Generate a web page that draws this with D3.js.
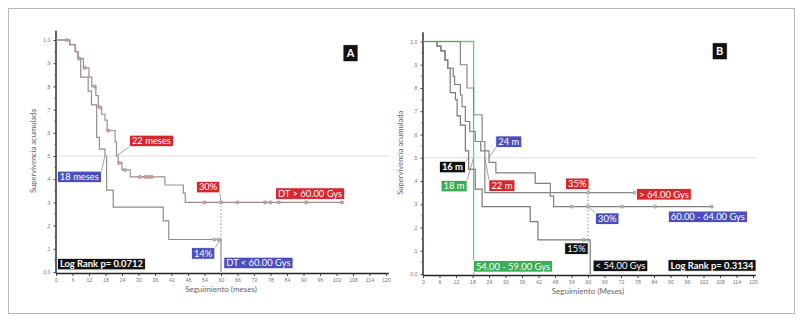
<!DOCTYPE html>
<html><head><meta charset="utf-8">
<script src="https://cdn.jsdelivr.net/npm/d3@7"></script>
<style>
html,body{margin:0;padding:0;background:#fff;}
svg{display:block;font-family:Lato,"Open Sans",sans-serif;}
</style></head>
<body><svg id="c" width="802" height="322"></svg>
<script>
// ---------- DATA ----------
const xTicks = [0,6,12,18,24,30,36,42,48,54,60,66,72,78,84,90,96,102,108,114,120];
const yTicks = [0,0.1,0.2,0.3,0.4,0.5,0.6,0.7,0.8,0.9,1.0];
const yTickLabels = ["0,0",",1",",2",",3",",4",",5",",6",",7",",8",",9","1,0"];

// Panel A: DT > 60.00 Gys
const tA_hi = [0,5,7,8,10,12,13,14.5,15.4,16.6,17.8,18.6,21.5,22,22.6,24,27,39.6,46.3,47,104];
const sA_hi = [1,.98,.95,.92,.88,.84,.80,.76,.71,.68,.655,.61,.56,.50,.47,.44,.41,.375,.34,.30,.30];
const cA_hi_t = [3.9,8.5,10.5,14,16,19,23,25,30.5,32.4,33.6,34.8,54,60,66,76,78,81,91,104];
const cA_hi_s = [1,.92,.88,.80,.71,.61,.47,.44,.41,.41,.41,.41,.30,.30,.30,.30,.30,.30,.30,.30];
// Panel A: DT < 60.00 Gys
const tA_lo = [0,5,7,8,9,11.7,12.9,14.8,15.8,17.8,18.4,20.8,39,41,60];
const sA_lo = [1,.98,.95,.92,.84,.78,.72,.58,.53,.50,.353,.28,.22,.14,0];
const cA_lo_t = [57.5,59];
const cA_lo_s = [.14,.14];

// Panel B
const tB_lt54 = [0,5.1,6.5,8,9,9.9,11.8,12.4,13.6,15.4,16.6,19,21.5,39,41.8,60.8];
const sB_lt54 = [1,.98,.96,.92,.885,.78,.75,.68,.64,.53,.45,.365,.29,.225,.147,0];
const tB_5459 = [0,18.4];
const sB_5459 = [1,0];
const tB_6064 = [0,5.1,6.5,8,9,11,11.5,13.6,14.2,15.4,17,19,21,24,26.5,40.8,46.3,47.5,105];
const sB_6064 = [1,.98,.96,.92,.885,.85,.815,.77,.72,.656,.613,.57,.53,.48,.435,.39,.335,.29,.29];
const tB_gt64 = [0,13.6,16,18.4,21.5,22.5,77];
const sB_gt64 = [1,.9,.8,.685,.57,.35,.35];
const cB_6064_t = [54,60,72.4,84.4,105];
const cB_6064_s = [.29,.29,.29,.29,.29];
const cB_gt64_t = [60,77];
const cB_gt64_s = [.35,.35];
const cB_lt54_t = [58.5];
const cB_lt54_s = [.147];

// ---------- DRAW ----------
const svg = d3.select("#c");
svg.append("rect").attr("x",8.5).attr("y",8.5).attr("width",786).attr("height",305)
  .attr("fill","none").attr("stroke","#b8b8b8").attr("stroke-width",1);

const RED="#d8262f", BLUE="#4a4ebf", BLACK="#111", GREEN="#3aad58";

function zip(t,s){return t.map((v,i)=>[v,s[i]]);}

function panel(cfg){
  const x = d3.scaleLinear().domain([0,120]).range(cfg.xr);
  const y = d3.scaleLinear().domain([0,1]).range(cfg.yr);
  const g = svg.append("g");
  g.append("line").attr("x1",x(0)).attr("x2",x(121)).attr("y1",y(.5)).attr("y2",y(.5))
    .attr("stroke","#dedede").attr("stroke-width",1);
  const xa = g.append("g").attr("transform",`translate(0,${y(0)+1.5})`)
    .call(d3.axisBottom(x).tickValues(xTicks).tickSize(2.5).tickPadding(2).tickFormat(d3.format("d")));
  xa.select(".domain").attr("stroke","#222").attr("stroke-width",1.4).attr("d",`M${x(0)},0H${x(121)}`);
  xa.selectAll("text").attr("font-size",5.2).attr("fill","#777");
  xa.selectAll(".tick line").attr("stroke","#444");
  const ya = g.append("g").attr("transform",`translate(${x(0)},0)`)
    .call(d3.axisLeft(y).tickValues(yTicks).tickSize(2.5).tickPadding(3).tickFormat((d,i)=>yTickLabels[i]));
  ya.select(".domain").attr("stroke","#222").attr("stroke-width",1.4).attr("d",`M0,${y(0)+1.5}V${y(1.04)}`);
  ya.selectAll("text").attr("font-size",5.2).attr("fill","#777");
  ya.selectAll(".tick line").attr("stroke","#444");
  g.selectAll(".my").data(d3.range(0.05,1.0,0.1)).join("line")
    .attr("x1",x(0)-2).attr("x2",x(0)).attr("y1",d=>y(d)).attr("y2",d=>y(d)).attr("stroke","#555").attr("stroke-width",0.6);
  g.append("text").attr("transform",`translate(${x(0)-20},${y(0.5)-5}) rotate(-90)`)
    .attr("text-anchor","middle").attr("font-size",7.6).attr("fill","#666").text("Supervivencia acumulada");
  g.append("text").attr("x",x(60)).attr("y",y(0)+20).attr("text-anchor","middle")
    .attr("font-size",8).attr("fill","#666").text(cfg.xtitle);
  cfg.guides.forEach(d=>{
    g.append("line").attr("x1",x(d[0])).attr("x2",x(d[0])).attr("y1",y(d[1])).attr("y2",y(d[2]))
      .attr("stroke","#888").attr("stroke-width",1).attr("stroke-dasharray","1.5,2");
  });
  const line = d3.line().x(d=>x(d[0])).y(d=>y(d[1])).curve(d3.curveStepAfter);
  cfg.curves.forEach(c=>{
    g.append("path").attr("d",line(zip(c.t,c.s))).attr("fill","none")
      .attr("stroke",c.color).attr("stroke-width",c.w||1.2);
    if(c.ct){
      g.selectAll(null).data(zip(c.ct,c.cs)).join("circle")
        .attr("cx",d=>x(d[0])).attr("cy",d=>y(d[1])).attr("r",1.6)
        .attr("fill",c.mfill).attr("stroke",c.mstroke).attr("stroke-width",0.6);
    }
  });
  cfg.labels.forEach(l=>{
    const cx=x(l.t), cy=y(l.s);
    const lg = g.append("g");
    const txt = lg.append("text").attr("x",cx).attr("y",cy+ (l.big?4:3.3)).attr("text-anchor","middle")
      .attr("font-size",l.big?11:9.4).attr("font-weight",l.big||l.bold?"bold":"normal")
      .attr("fill","#fff").text(l.text);
    const w = txt.node().getComputedTextLength();
    const bw = l.big? 15 : w+5, bh = l.big?17:11.5;
    const bx = cx-bw/2, by = cy-bh/2;
    if(l.to){
      const px = l.from==="tl"?bx:(l.from==="tr"?bx+bw:(l.from==="bl"?bx:bx+bw));
      const py = (l.from==="tl"||l.from==="tr")?by:by+bh;
      g.insert("line",":first-child").attr("x1",px).attr("y1",py).attr("x2",x(l.to[0])).attr("y2",y(l.to[1]))
        .attr("stroke","#9a9a9a").attr("stroke-width",0.9);
    }
    lg.insert("rect","text").attr("x",bx).attr("y",by).attr("width",bw).attr("height",bh)
      .attr("fill",l.color).attr("stroke","#fff").attr("stroke-width",0.8);
  });
}

panel({
  xr:[56,386], yr:[272,40], xtitle:"Seguimiento (meses)",
  guides:[[60,.30,.14]],
  curves:[
    {t:tA_lo,s:sA_lo,color:"#8e8e8e",ct:cA_lo_t,cs:cA_lo_s,mfill:"#bbb",mstroke:"#888"},
    {t:tA_hi,s:sA_hi,color:"#a08c8c",ct:cA_hi_t,cs:cA_hi_s,mfill:"#d4a8a8",mstroke:"#9a7a7a"}
  ],
  labels:[
    {text:"22 meses",color:RED,t:34.7,s:.565,to:[22,.5],from:"bl"},
    {text:"18 meses",color:BLUE,t:8.5,s:.41,to:[17.8,.5],from:"tr"},
    {text:"30%",color:RED,t:55.3,s:.366,to:[60,.30],from:"br"},
    {text:"DT > 60.00 Gys",color:RED,t:92.4,s:.338},
    {text:"14%",color:BLUE,t:53.5,s:.08,to:[60,.14],from:"tr"},
    {text:"DT < 60.00 Gys",color:BLUE,t:73.6,s:.039},
    {text:"Log Rank p= 0.0712",color:BLACK,t:16.5,s:.034,bold:true},
    {text:"A",color:BLACK,t:107.1,s:.943,big:true}
  ]
});

panel({
  xr:[423,753], yr:[274,41.5], xtitle:"Seguimiento (Meses)",
  guides:[[60,.35,.147]],
  curves:[
    {t:tB_5459,s:sB_5459,color:"#6cc878",w:1.3},
    {t:tB_lt54,s:sB_lt54,color:"#7a7a7a",ct:cB_lt54_t,cs:cB_lt54_s,mfill:"#bbb",mstroke:"#777"},
    {t:tB_6064,s:sB_6064,color:"#808080",ct:cB_6064_t,cs:cB_6064_s,mfill:"#bbb",mstroke:"#888"},
    {t:tB_gt64,s:sB_gt64,color:"#858585",ct:cB_gt64_t,cs:cB_gt64_s,mfill:"#bbb",mstroke:"#888"}
  ],
  labels:[
    {text:"16 m",color:BLACK,t:10.7,s:.46,to:[16.6,.5],from:"tr",bold:true},
    {text:"18 m",color:GREEN,t:11.3,s:.378,to:[18.4,.5],from:"tr"},
    {text:"24 m",color:BLUE,t:31.2,s:.569,to:[24,.5],from:"bl"},
    {text:"22 m",color:RED,t:28.7,s:.38,to:[22.5,.5],from:"tl"},
    {text:"35%",color:RED,t:56.1,s:.388,to:[60,.35],from:"br"},
    {text:"> 64.00 Gys",color:RED,t:87.6,s:.343},
    {text:"30%",color:BLUE,t:67,s:.238,to:[60,.29],from:"tl"},
    {text:"60.00 - 64.00 Gys",color:BLUE,t:103.6,s:.246},
    {text:"15%",color:BLACK,t:55.8,s:.109,to:[60,.147],from:"tr"},
    {text:"< 54.00 Gys",color:BLACK,t:71.8,s:.035},
    {text:"54.00 - 59.00 Gys",color:GREEN,t:32.7,s:.033},
    {text:"Log Rank p= 0.3134",color:BLACK,t:105.1,s:.037,bold:true},
    {text:"B",color:BLACK,t:107.9,s:.958,big:true}
  ]
});
</script></body></html>
